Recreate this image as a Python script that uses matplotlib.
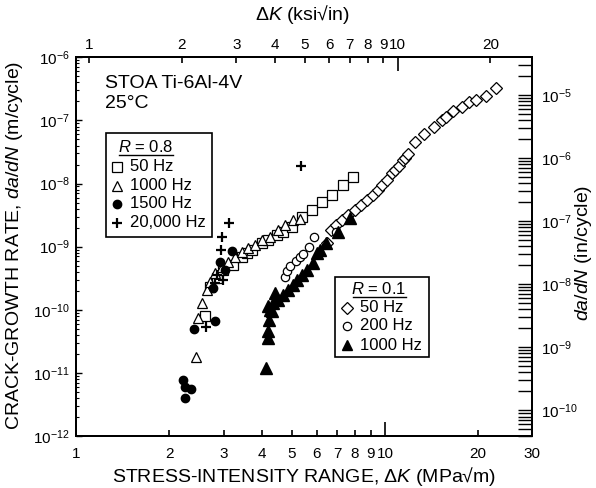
import matplotlib
matplotlib.use("Agg")
import matplotlib.pyplot as plt
from matplotlib.lines import Line2D
from matplotlib.patches import Rectangle
from matplotlib.ticker import FixedLocator, FixedFormatter, NullFormatter, LogLocator

plt.rcParams['font.family'] = ['Liberation Sans', 'DejaVu Sans']
plt.rcParams['mathtext.fontset'] = 'custom'
plt.rcParams['mathtext.rm'] = 'Liberation Sans'
plt.rcParams['mathtext.it'] = 'Liberation Sans:italic'
plt.rcParams['mathtext.default'] = 'regular'

# ---- data: stress-intensity range (MPa sqrt m) and growth rate (m/cycle) ----
# R = 0.8
dk_r08_50hz = [2.61, 2.71, 2.86, 2.99, 3.22, 3.44, 3.57, 3.71, 4.00, 4.18,
               4.47, 4.67, 4.99, 5.38, 5.82, 6.25, 6.73, 7.31, 7.87]
da_r08_50hz = [7.9e-11, 2.29e-10, 3.18e-10, 4.26e-10, 5.1e-10, 6.8e-10, 7.9e-10,
               8.8e-10, 1.14e-9, 1.27e-9, 1.53e-9, 1.70e-9, 2.05e-9, 2.94e-9,
               3.8e-9, 5.1e-9, 6.6e-9, 9.5e-9, 1.27e-8]

dk_r08_1000hz = [2.44, 2.48, 2.55, 2.65, 2.71, 2.81, 2.96, 3.10, 3.27, 3.44,
                 3.60, 3.79, 4.00, 4.24, 4.50, 4.74, 5.03, 5.30]
da_r08_1000hz = [1.78e-11, 7.4e-11, 1.28e-10, 2.05e-10, 2.75e-10, 3.82e-10, 4.75e-10,
                 5.7e-10, 6.8e-10, 8.2e-10, 9.5e-10, 1.06e-9, 1.27e-9, 1.42e-9,
                 1.83e-9, 2.2e-9, 2.64e-9, 2.74e-9]

dk_r08_1500hz = [2.21, 2.25, 2.36, 2.25, 2.40, 2.82, 2.77, 3.03, 2.92, 3.19]
da_r08_1500hz = [7.7e-12, 5.96e-12, 5.5e-12, 4.0e-12, 5.0e-11, 6.6e-11, 2.21e-10,
                 4.26e-10, 5.7e-10, 8.5e-10]

dk_r08_20khz = [2.63, 2.77, 2.81, 2.86, 2.99, 2.94, 2.96, 3.12, 5.34]
da_r08_20khz = [5.3e-11, 2.21e-10, 2.65e-10, 3.55e-10, 2.96e-10, 8.8e-10, 1.42e-9,
                2.37e-9, 1.89e-8]

# R = 0.1
dk_r01_50hz = [6.49, 6.68, 6.94, 7.26, 7.59, 8.0, 8.36, 8.74, 9.14, 9.49, 9.78,
               10.15, 10.5, 10.8, 11.1, 11.4, 11.6, 11.9, 12.5, 13.4, 14.4, 15.3,
               15.8, 16.6, 17.8, 18.7, 19.7, 21.2, 22.9]
da_r01_50hz = [1.14e-9, 1.83e-9, 2.2e-9, 2.64e-9, 3.17e-9, 3.8e-9, 4.6e-9, 5.5e-9,
               6.6e-9, 7.9e-9, 9.5e-9, 1.14e-8, 1.47e-8, 1.64e-8, 1.93e-8, 2.36e-8,
               2.58e-8, 2.93e-8, 4.55e-8, 6.09e-8, 8.0e-8, 1.03e-7, 1.15e-7, 1.41e-7,
               1.66e-7, 1.96e-7, 2.10e-7, 2.48e-7, 3.26e-7]

dk_r01_200hz = [4.74, 4.81, 4.92, 5.15, 5.30, 5.42, 5.67, 5.89, 6.94]
da_r01_200hz = [3.3e-10, 4.1e-10, 4.93e-10, 5.9e-10, 6.8e-10, 7.6e-10, 9.9e-10,
                1.42e-9, 1.70e-9]

dk_r01_1000hz = [4.13, 4.18, 4.18, 4.21, 4.18, 4.24, 4.30, 4.34, 4.40, 4.50, 4.67,
                 4.85, 5.03, 5.19, 5.38, 5.59, 5.84, 6.02, 6.16, 6.44, 7.04, 7.70]
da_r01_1000hz = [1.19e-11, 3.56e-11, 4.6e-11, 6.9e-11, 1.15e-10, 9.9e-11, 9.5e-11,
                 1.28e-10, 1.84e-10, 1.43e-10, 1.71e-10, 2.05e-10, 2.46e-10, 2.96e-10,
                 3.55e-10, 4.26e-10, 5.5e-10, 7.9e-10, 8.8e-10, 1.14e-9, 1.70e-9, 2.84e-9]

bottom_ticks = [1, 2, 3, 4, 5, 6, 7, 8, 9, 10, 20, 30]
top_ticks = [1, 2, 3, 4, 5, 6, 7, 8, 9, 10, 20]

MPA_PER_KSI = 1.0988      # 1 ksi sqrt(in) in MPa sqrt(m)
M_PER_IN = 0.0254

W, H = 596, 488
fig = plt.figure(figsize=(W / 100, H / 100), dpi=100)


def fx(px):
    return px / W


def fy(py):
    return 1 - py / H


x0, x1, ytop, ybot = 76.4, 532.2, 57.3, 436.0
ax = fig.add_axes([fx(x0), fy(ybot), (x1 - x0) / W, (ybot - ytop) / H])
ax.set_xscale('log')
ax.set_yscale('log')
ax.set_xlim(1, 30)
ax.set_ylim(1e-12, 1e-6)

for s in ax.spines.values():
    s.set_linewidth(1.4)

open_kw = dict(linestyle='none', markerfacecolor='white', markeredgecolor='black')
ax.plot(dk_r08_50hz, da_r08_50hz, marker='s', ms=7, mew=0.9, zorder=3, **open_kw)
ax.plot(dk_r08_1000hz, da_r08_1000hz, marker='^', ms=7.5, mew=0.9, zorder=3, **open_kw)
ax.plot(dk_r08_1500hz, da_r08_1500hz, marker='o', ms=6, linestyle='none',
        color='black', zorder=4)
ax.plot(dk_r08_20khz, da_r08_20khz, marker='+', ms=7, mew=1.6, linestyle='none',
        color='black', zorder=4)
ax.plot(dk_r01_50hz, da_r01_50hz, marker='D', ms=6.5, mew=0.9, zorder=3, **open_kw)
ax.plot(dk_r01_200hz, da_r01_200hz, marker='o', ms=6, mew=0.9, zorder=3, **open_kw)
ax.plot(dk_r01_1000hz, da_r01_1000hz, marker='^', ms=8, linestyle='none',
        color='black', zorder=4)

# bottom axis (MPa sqrt m)
ax.xaxis.set_major_locator(FixedLocator([1, 10]))
ax.xaxis.set_minor_locator(FixedLocator([t for t in bottom_ticks if t not in (1, 10)]))
ax.xaxis.set_major_formatter(FixedFormatter(['1', '10']))
ax.xaxis.set_minor_formatter(FixedFormatter([str(t) for t in bottom_ticks if t not in (1, 10)]))
ax.tick_params(axis='x', which='major', direction='in', length=10, width=1.2,
               labelsize=11, pad=8)
ax.tick_params(axis='x', which='minor', direction='in', length=4.5, width=1.2,
               labelsize=11, pad=8)

# left axis (m/cycle)
ax.yaxis.set_major_locator(LogLocator(base=10, numticks=10))
ax.yaxis.set_minor_locator(LogLocator(base=10, subs=range(2, 10), numticks=10))
ax.yaxis.set_minor_formatter(NullFormatter())
ax.tick_params(axis='y', which='major', direction='in', length=4, width=1,
               labelsize=11, pad=5)
ax.tick_params(axis='y', which='minor', direction='in', length=2, width=0.8)

# top axis (ksi sqrt in)
axt = ax.twiny()
axt.set_xscale('log')
axt.set_xlim(1 / MPA_PER_KSI, 30 / MPA_PER_KSI)
axt.xaxis.set_major_locator(FixedLocator([10]))
axt.xaxis.set_minor_locator(FixedLocator([t for t in top_ticks if t != 10]))
axt.xaxis.set_major_formatter(FixedFormatter(['10']))
axt.xaxis.set_minor_formatter(FixedFormatter([str(t) for t in top_ticks if t != 10]))
axt.tick_params(axis='x', which='major', direction='in', length=10, width=1.2,
                labelsize=11, pad=4)
axt.tick_params(axis='x', which='minor', direction='in', length=4, width=1.2,
                labelsize=11, pad=4)

# right axis (in/cycle)
axr = ax.twinx()
axr.set_yscale('log')
axr.set_ylim(1e-12 / M_PER_IN, 1e-6 / M_PER_IN)
axr.yaxis.set_major_locator(LogLocator(base=10, numticks=10))
axr.yaxis.set_minor_locator(LogLocator(base=10, subs=range(2, 10), numticks=10))
axr.yaxis.set_minor_formatter(NullFormatter())
axr.tick_params(axis='y', which='both', direction='in', length=10, width=1,
                labelsize=11, pad=6)
for a in (axt, axr):
    for s in a.spines.values():
        s.set_linewidth(1.4)

# axis titles
fig.text(fx(15), fy(245), 'CRACK-GROWTH RATE, $\\it{da/dN}$ (m/cycle)', rotation=90,
         ha='center', va='center', fontsize=14)
fig.text(fx(304), fy(477), 'STRESS-INTENSITY RANGE, Δ$\\it{K}$ (MPa√m)',
         ha='center', va='center', fontsize=14)
fig.text(fx(302), fy(15), 'Δ$\\it{K}$ (ksi√in)', ha='center', va='center', fontsize=14)
fig.text(fx(584), fy(253), '$\\it{da/dN}$ (in/cycle)', rotation=90,
         ha='center', va='center', fontsize=14)

# material note
fig.text(fx(105), fy(83), 'STOA Ti-6Al-4V', ha='left', va='center', fontsize=14)
fig.text(fx(105), fy(104), '25°C', ha='left', va='center', fontsize=14)


def legend_box(left, top, right, bottom, title, title_xy, uline, mx, tx, rows):
    fig.add_artist(Rectangle((fx(left), fy(bottom)), fx(right) - fx(left),
                             fy(top) - fy(bottom), transform=fig.transFigure,
                             fill=True, facecolor='white', edgecolor='black',
                             linewidth=1.2, zorder=5))
    fig.text(fx(title_xy[0]), fy(title_xy[1]), title, ha='center', va='center',
             fontsize=12, zorder=6)
    fig.add_artist(Line2D([fx(uline[0]), fx(uline[1])], [fy(uline[2])] * 2,
                          transform=fig.transFigure, color='black', lw=1, zorder=6))
    for y, label, style in rows:
        fig.add_artist(Line2D([fx(mx)], [fy(y)], transform=fig.transFigure,
                              linestyle='none', zorder=6, **style))
        fig.text(fx(tx), fy(y), label, ha='left', va='center', fontsize=12, zorder=6)


legend_box(106, 133, 212, 237, '$\\it{R}$ = 0.8', (146, 147), (119, 173, 155), 117, 130,
           [(166.5, '50 Hz', dict(marker='s', ms=7, mew=0.9, mfc='white', mec='black')),
            (185.5, '1000 Hz', dict(marker='^', ms=7.5, mew=0.9, mfc='white', mec='black')),
            (204, '1500 Hz', dict(marker='o', ms=6, color='black')),
            (222.5, '20,000 Hz', dict(marker='+', ms=7, mew=1.6, color='black'))])

legend_box(335, 277, 429, 357, '$\\it{R}$ = 0.1', (379, 289), (353, 406, 297), 347, 360,
           [(307.5, '50 Hz', dict(marker='D', ms=6.5, mew=0.9, mfc='white', mec='black')),
            (326, '200 Hz', dict(marker='o', ms=6, mew=0.9, mfc='white', mec='black')),
            (345, '1000 Hz', dict(marker='^', ms=7.5, color='black'))])

fig.savefig('out.png', dpi=100)
